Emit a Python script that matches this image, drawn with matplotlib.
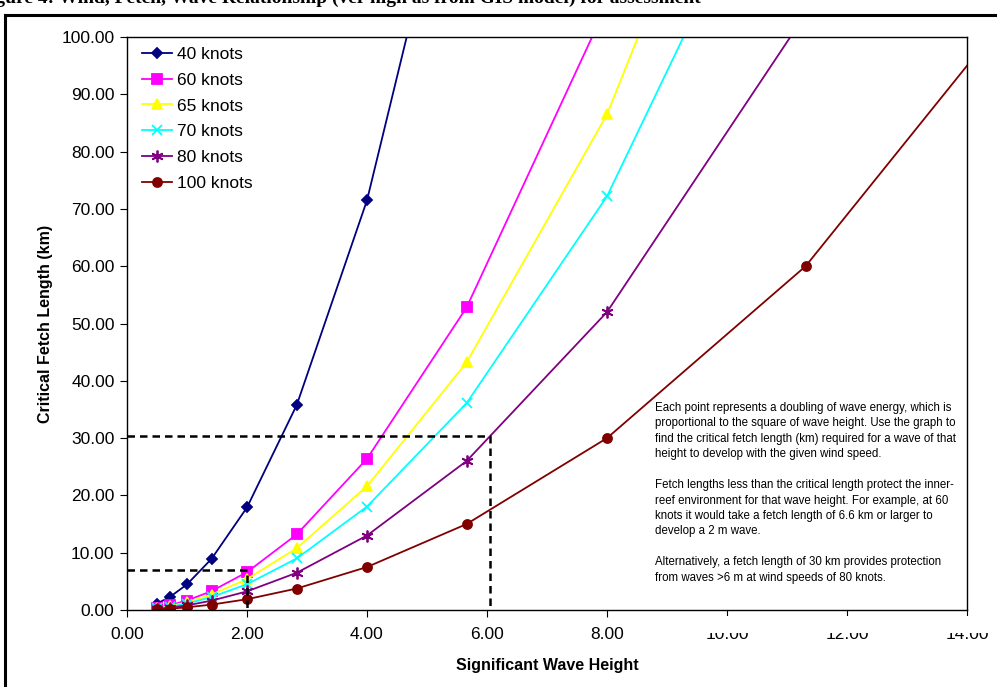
import numpy as np
import matplotlib.pyplot as plt
from matplotlib.lines import Line2D
from matplotlib.patches import Rectangle
from matplotlib.ticker import FormatStrFormatter

plt.rcParams['font.family'] = ['Liberation Sans', 'DejaVu Sans']

# wave heights (m), each point doubles the wave energy
wave_height = [0.50, 0.71, 1.00, 1.41, 2.00, 2.83, 4.00, 5.66, 8.00, 11.31, 16.00]

# critical fetch (km) per wind speed
fetch_40 = [1.12, 2.24, 4.47, 8.94, 17.9, 35.8, 71.5, 143.0]
fetch_60 = [0.41, 0.83, 1.65, 3.30, 6.6, 13.2, 26.4, 52.8, 105.6]
fetch_65 = [0.34, 0.68, 1.35, 2.70, 5.4, 10.8, 21.6, 43.2, 86.5, 173.0]
fetch_70 = [0.28, 0.56, 1.13, 2.26, 4.5, 9.0, 18.05, 36.1, 72.2, 144.4]
fetch_80 = [0.20, 0.41, 0.81, 1.63, 3.25, 6.5, 13.0, 26.0, 52.0, 104.0]
fetch_100 = [0.12, 0.23, 0.47, 0.94, 1.88, 3.75, 7.5, 15.0, 30.0, 60.0, 121.0]

series = [
    ('40 knots', fetch_40, '#000080', 'D', 5.5),
    ('60 knots', fetch_60, '#FF00FF', 's', 6.5),
    ('65 knots', fetch_65, '#FFFF00', '^', 6.5),
    ('70 knots', fetch_70, '#00FFFF', 'x', 7.5),
    ('80 knots', fetch_80, '#800080', (6, 2, 0), 8.5),
    ('100 knots', fetch_100, '#800000', 'o', 6.5),
]

note = ("Each point represents a doubling of wave energy, which is\n"
        "proportional to the square of wave height. Use the graph to\n"
        "find the critical fetch length (km) required for a wave of that\n"
        "height to develop with the given wind speed.\n\n"
        "Fetch lengths less than the critical length protect the inner-\n"
        "reef environment for that wave height. For example, at 60\n"
        "knots it would take a fetch length of 6.6 km or larger to\n"
        "develop a 2 m wave.\n\n"
        "Alternatively, a fetch length of 30 km provides protection\n"
        "from waves >6 m at wind speeds of 80 knots.")

W, H = 997, 687
fig = plt.figure(figsize=(W / 100, H / 100), dpi=100)
ax = fig.add_axes([127 / W, 1 - 610 / H, 840 / W, 573 / H])

for name, vals, col, mk, ms in series:
    ax.plot(wave_height[:len(vals)], vals, color=col, marker=mk, markersize=ms,
            markeredgewidth=1.3, lw=1.3, label=name)

# worked examples (dashed guides)
ax.plot([0, 2.0, 2.0], [7.0, 7.0, 0], 'k--', lw=1.8, dashes=(3, 2))
ax.plot([0, 6.05, 6.05], [30.3, 30.3, 0], 'k--', lw=1.8, dashes=(3, 2))

ax.set_xlim(0, 14)
ax.set_ylim(0, 100)
ax.set_xticks(np.arange(0, 15, 2))
ax.set_yticks(np.arange(0, 101, 10))
ax.xaxis.set_major_formatter(FormatStrFormatter('%.2f'))
ax.yaxis.set_major_formatter(FormatStrFormatter('%.2f'))
ax.tick_params(direction='out', length=5, labelsize=12.5, pad=7)
ax.tick_params(axis='y', pad=4)
for s in ax.spines.values():
    s.set_linewidth(1.0)

ax.set_xlabel('Significant Wave Height', fontsize=11.5, fontweight='bold', labelpad=12)
ax.set_ylabel('Critical Fetch Length (km)', fontsize=11.5, fontweight='bold', labelpad=6)

ax.legend(loc='upper left', frameon=False, fontsize=12.5, handlelength=1.7,
          labelspacing=0.62, borderaxespad=0.25, handletextpad=0.3,
          bbox_to_anchor=(0.005, 1.003))

fig.text(655 / W, 1 - 402 / H, note, fontsize=8.3, va='top', ha='left',
         linespacing=1.38)

# white box that hides the top of the last tick labels
fig.add_artist(Rectangle((690 / W, 1 - 633 / H), (W - 690) / W, 17 / H,
                         transform=fig.transFigure, facecolor='white',
                         edgecolor='none', zorder=5))

# outer chart border and cut-off caption
fig.add_artist(Line2D([5 / W, 5 / W], [0, 1 - 15 / H], color='black', lw=2.2,
                      transform=fig.transFigure))
fig.add_artist(Line2D([5 / W, 1], [1 - 15 / H, 1 - 15 / H], color='black', lw=2.2,
                      transform=fig.transFigure))
fig.text(-22 / W, 1 + 2 / H,
         'Figure 4: Wind, Fetch, Wave Relationship (ver high as from GIS model) for assessment',
         fontsize=14, fontweight='bold', family=['Liberation Serif'], va='center', ha='left')

fig.savefig('out.png', dpi=100)
